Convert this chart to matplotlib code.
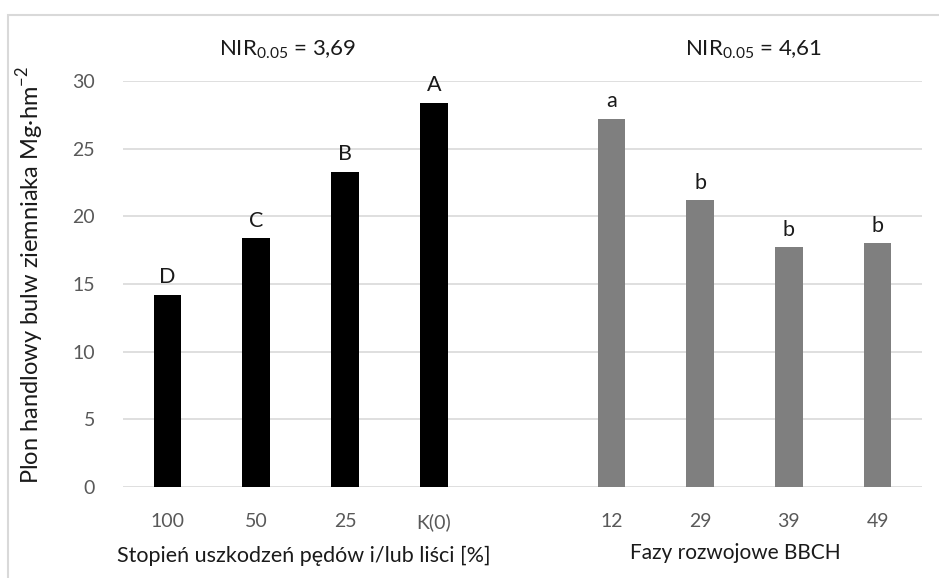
import numpy as np
import matplotlib
matplotlib.use("Agg")
import matplotlib.pyplot as plt
from matplotlib.patches import Rectangle

plt.rcParams['font.family'] = ['Lato', 'DejaVu Sans']
plt.rcParams['mathtext.fontset'] = 'custom'
plt.rcParams['mathtext.rm'] = 'Lato'

# dane
damage_labels = ["100", "50", "25", "K(0)"]
damage_values = [14.2, 18.4, 23.3, 28.4]
damage_letters = ["D", "C", "B", "A"]

bbch_labels = ["12", "29", "39", "49"]
bbch_values = [27.2, 21.2, 17.7, 18.0]
bbch_letters = ["a", "b", "b", "b"]

nir_left = "3,69"
nir_right = "4,61"

fig = plt.figure(figsize=(9.39, 5.78), dpi=100)
ax = fig.add_axes([0.131, 0.1574, 0.851, 0.7025])

x1 = np.arange(len(damage_values))
x2 = np.arange(len(bbch_values)) + len(damage_values) + 1

ax.bar(x1, damage_values, width=0.31, color="black", zorder=3)
ax.bar(x2, bbch_values, width=0.31, color="#7f7f7f", zorder=3)

for x, v, t in zip(x1, damage_values, damage_letters):
    ax.text(x, v + 0.55, t, ha="center", va="bottom", fontsize=15.5, color="#1a1a1a")
for x, v, t in zip(x2, bbch_values, bbch_letters):
    ax.text(x, v + 0.55, t, ha="center", va="bottom", fontsize=15.5, color="#1a1a1a")

ax.set_xlim(-0.5, 8.5)
ax.set_ylim(0, 30)
ax.set_yticks(range(0, 31, 5))
ax.set_xticks(list(x1) + list(x2))
ax.set_xticklabels(damage_labels + bbch_labels)
ax.tick_params(axis="both", length=0, labelsize=14, labelcolor="#595959")
ax.tick_params(axis="x", pad=19)
ax.tick_params(axis="y", pad=20)
ax.yaxis.grid(True, color="#d9d9d9", linewidth=1.2, zorder=0)
for s in ax.spines.values():
    s.set_visible(False)

ax.text(1.5 - 0.15, 32.3, "NIR$_{\\mathregular{0.05}}$ = " + nir_left, ha="center", va="center", fontsize=16, color="#1a1a1a")
ax.text(6.5 + 0.1, 32.3, "NIR$_{\\mathregular{0.05}}$ = " + nir_right, ha="center", va="center", fontsize=16, color="#1a1a1a")

fig.text(0.324, 0.038, "Stopień uszkodzeń pędów i/lub liści [%]", ha="center", va="center", fontsize=15.5, color="#1a1a1a")
fig.text(0.783, 0.043, "Fazy rozwojowe BBCH", ha="center", va="center", fontsize=15, color="#1a1a1a")
fig.text(0.032, 0.525, "Plon handlowy bulw ziemniaka Mg·hm$^{\\mathregular{-2}}$", rotation=90,
         ha="center", va="center", fontsize=17, color="#1a1a1a")

# ramka wykresu
fig.patches.append(Rectangle((8 / 939, -0.05), 1.1, 1 - 15 / 578 + 0.05, transform=fig.transFigure,
                             fill=False, edgecolor="#d9d9d9", linewidth=1.5))

fig.savefig("out.png", dpi=100)
